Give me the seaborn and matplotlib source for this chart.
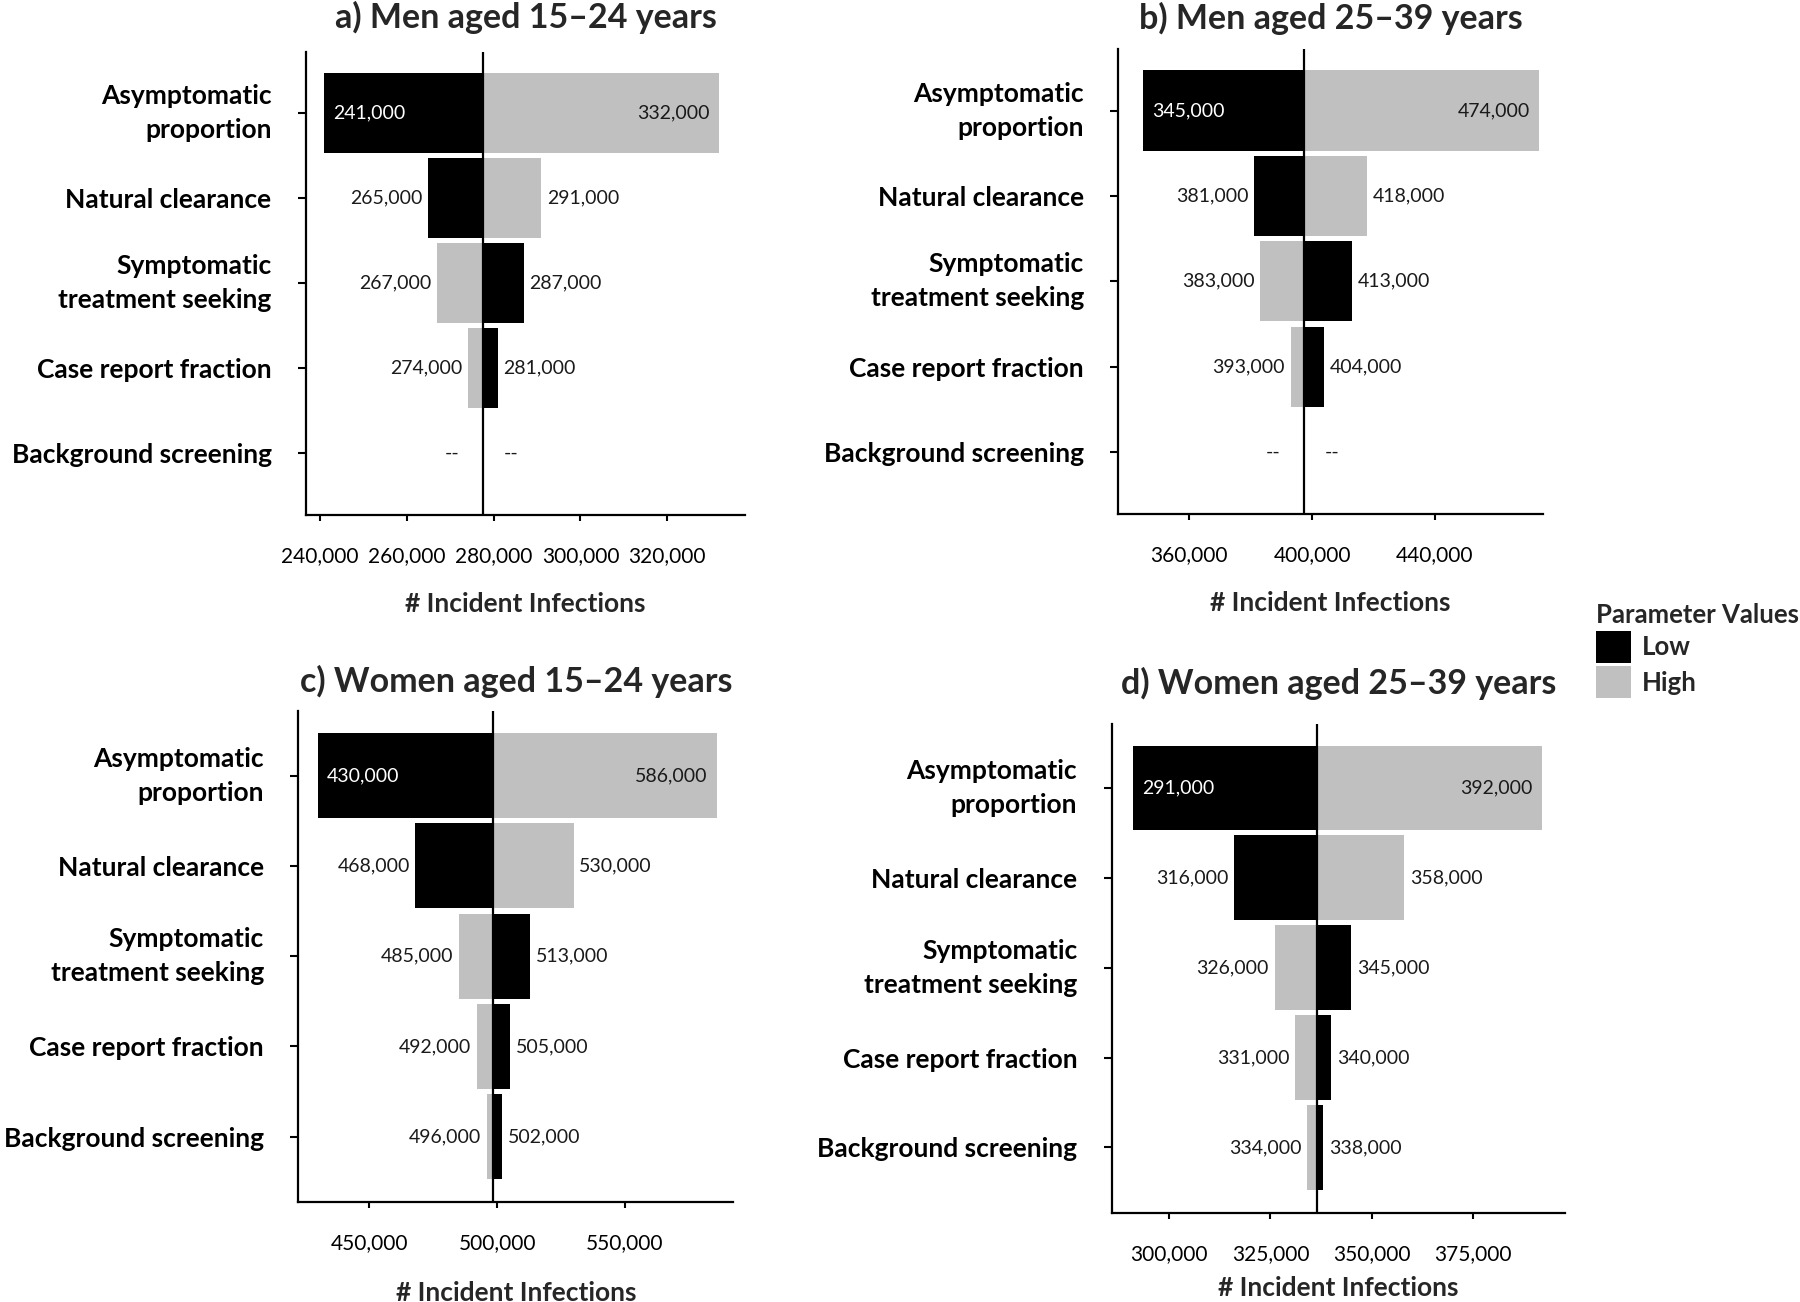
import matplotlib.pyplot as plt
import pandas as pd
import seaborn as sns
from matplotlib.patches import Patch

PARAMS = [
    "Asymptomatic\nproportion",
    "Natural clearance",
    "Symptomatic\ntreatment seeking",
    "Case report fraction",
    "Background screening",
]

TITLES = [
    "a) Men aged 15–24 years",
    "b) Men aged 25–39 years",
    "c) Women aged 15–24 years",
    "d) Women aged 25–39 years",
]

# model output at the base-case parameter set
BASELINES = [277600, 397400, 498300, 336600]

# incident infections with each parameter at its low / high value (None = no change)
LOW_VALUES = [
    [241000, 265000, 287000, 281000, None],
    [345000, 381000, 413000, 404000, None],
    [430000, 468000, 513000, 505000, 502000],
    [291000, 316000, 345000, 340000, 338000],
]
HIGH_VALUES = [
    [332000, 291000, 267000, 274000, None],
    [474000, 418000, 383000, 393000, None],
    [586000, 530000, 485000, 492000, 496000],
    [392000, 358000, 326000, 331000, 334000],
]

X_TICKS = [
    [240000, 260000, 280000, 300000, 320000],
    [360000, 400000, 440000],
    [450000, 500000, 550000],
    [300000, 325000, 350000, 375000],
]
X_LIMITS = [(236800, 337900), (336900, 475100), (422200, 592400), (285800, 397700)]

# axes rectangles in figure fractions [left, bottom, width, height]
AX_RECTS = [
    [0.1700, 0.6045, 0.2439, 0.3556],
    [0.6213, 0.6052, 0.2358, 0.3568],
    [0.1657, 0.0766, 0.2417, 0.3773],
    [0.6176, 0.0686, 0.2518, 0.3757],
]
TITLE_PADS = [17, 15, 14, 21]
XLABEL_PADS = [19, 19, 20, 9]

COLORS = {"Low": "#000000", "High": "#c0c0c0"}
TEXT = "#1a1a1a"

sns.set_style("ticks")
plt.rcParams["font.family"] = ["Lato", "DejaVu Sans"]


def panel_frame(i: int) -> pd.DataFrame:
    rows = []
    for p, lo, hi in zip(PARAMS, LOW_VALUES[i], HIGH_VALUES[i]):
        for level, v in (("Low", lo), ("High", hi)):
            if v is not None:
                rows.append({"param": p, "level": level, "value": v,
                             "delta": v - BASELINES[i]})
    return pd.DataFrame(rows)


def label_bars(ax, i: int) -> None:
    base = BASELINES[i]
    for row, (lo, hi) in enumerate(zip(LOW_VALUES[i], HIGH_VALUES[i])):
        if lo is None:
            ax.annotate("--", (base, row), xytext=(-17, 0), textcoords="offset points",
                        ha="right", va="center", fontsize=14, color=TEXT)
            ax.annotate("--", (base, row), xytext=(15, 0), textcoords="offset points",
                        ha="left", va="center", fontsize=14, color=TEXT)
            continue
        for level, v in (("Low", lo), ("High", hi)):
            left_side = v < base
            if row == 0:
                # widest bars carry their label inside
                dx = 6.5 if left_side else -7
                ha = "left" if left_side else "right"
                color = "white" if level == "Low" else TEXT
            else:
                dx = -4 if left_side else 4
                ha = "right" if left_side else "left"
                color = TEXT
            ax.annotate(f"{v:,}", (v, row), xytext=(dx, 0), textcoords="offset points",
                        ha=ha, va="center", fontsize=14, color=color)


fig = plt.figure(figsize=(18, 13.02), dpi=100)

for i in range(4):
    ax = fig.add_axes(AX_RECTS[i])
    df = panel_frame(i)
    sns.barplot(data=df, x="delta", y="param", hue="level", palette=COLORS,
                order=PARAMS, hue_order=["Low", "High"], dodge=False, orient="y",
                width=0.94, errorbar=None, legend=False, left=BASELINES[i],
                linewidth=0, ax=ax)
    ax.axvline(BASELINES[i], color="black", lw=1.6, zorder=3)

    ax.set_xlim(*X_LIMITS[i])
    ax.set_ylim(4.725, -0.715)
    ax.set_xticks(X_TICKS[i], labels=[f"{t:,}" for t in X_TICKS[i]])
    ax.set_yticks(range(len(PARAMS)), labels=PARAMS)
    for t in ax.get_yticklabels():
        t.set_linespacing(1.5)
        t.set_fontweight("bold")
        if "\n" in t.get_text():
            t.set_verticalalignment("center")

    ax.tick_params(axis="y", length=5.8, width=1.5, pad=19, labelsize=19, colors="black")
    ax.tick_params(axis="x", length=4.3, width=1.5, pad=18, labelsize=15, colors="black")
    ax.set_xlabel("# Incident Infections", fontsize=19, fontweight="bold",
                  labelpad=XLABEL_PADS[i])
    ax.set_ylabel("")
    ax.set_title(TITLES[i], fontsize=24.5, fontweight="bold", pad=TITLE_PADS[i])

    sns.despine(ax=ax)
    for s in ("left", "bottom"):
        ax.spines[s].set_linewidth(1.6)
        ax.spines[s].set_color("black")

    label_bars(ax, i)

handles = [Patch(facecolor=COLORS[k], edgecolor="none", label=k) for k in ("Low", "High")]
leg = fig.legend(handles=handles, title="Parameter Values", loc="upper left",
                 bbox_to_anchor=(0.8865, 0.537), frameon=False, fontsize=18.5,
                 title_fontproperties={"weight": "bold", "size": 18.5},
                 handlelength=1.36, handleheight=1.53, labelspacing=0.15,
                 handletextpad=0.45, borderpad=0, borderaxespad=0, alignment="left")
for t in leg.get_texts():
    t.set_fontweight("bold")

fig.savefig("out.png", dpi=100)
